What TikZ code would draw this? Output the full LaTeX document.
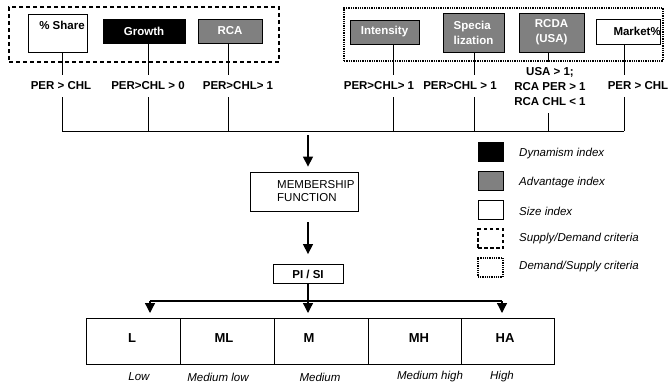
\documentclass[tikz,border=0pt]{standalone}
\usepackage{fontspec}
\setmainfont{Liberation Sans}
\usetikzlibrary{arrows.meta}

\begin{document}
\begin{tikzpicture}[x=1pt, y=-1pt,
    every node/.style={font=\fontsize{11.5}{13}\selectfont},
    idxbox/.style={draw, line width=0.8pt, inner sep=0pt, font=\fontsize{11.5}{15}\selectfont\bfseries},
    crit/.style={inner xsep=0pt, inner ysep=7pt, align=center, font=\fontsize{11.5}{15}\selectfont\bfseries},
    flow/.style={line width=1.3pt, -{Triangle[width=10pt,length=10pt]}},
    legbox/.style={draw, line width=0.8pt, minimum width=25pt, minimum height=19pt, inner sep=0pt},
    legtext/.style={anchor=west, inner sep=0pt, font=\fontsize{11.5}{13}\selectfont\itshape},
    sublabel/.style={inner sep=0pt, font=\fontsize{11.5}{13}\selectfont\itshape}]
    \useasboundingbox (0,0) rectangle (669,384);

    \node[draw, dashed, line width=1.3pt, dash pattern=on 4pt off 3pt, minimum width=270pt, minimum height=55pt] (sdframe) at (144,34.5) {};
    \node[idxbox, fill=white, minimum width=59pt, minimum height=38pt] (share) at (57.5,33) {};
    \node[inner sep=0pt, font=\fontsize{11.5}{13}\selectfont\bfseries] (sharetxt) at (62,25) {\% Share};
    \node[idxbox, fill=black, text=white, minimum width=82pt, minimum height=24pt] (growth) at (144,31) {Growth};
    \node[idxbox, fill=gray, text=white, minimum width=64pt, minimum height=24pt] (rca) at (230,31) {RCA};

    \node[draw, densely dotted, line width=1.3pt, minimum width=319pt, minimum height=53pt] (dsframe) at (503.5,34.5) {};
    \node[idxbox, fill=gray, text=white, minimum width=69pt, minimum height=24pt] (intens) at (384.5,32) {Intensity};
    \node[idxbox, fill=gray, text=white, minimum width=61pt, minimum height=39pt, align=left] (special) at (473.5,32.5) {Specia\\lization};
    \node[idxbox, fill=gray, text=white, minimum width=65pt, minimum height=39pt, align=center] (rcda) at (551.5,32.5) {RCDA\\(USA)};
    \node[idxbox, fill=white, minimum width=64pt, minimum height=25pt] (market) at (628,31.5) {};
    \node[anchor=east, inner sep=0pt, font=\fontsize{11.5}{13}\selectfont\bfseries] (markettxt) at (661,31.5) {Market\%};

    \node[crit] (c1) at (61,86) {PER > CHL};
    \node[crit] (c2) at (148,86) {PER>CHL > 0};
    \node[crit] (c3) at (238,86) {PER>CHL> 1};
    \node[crit] (c4) at (379,86) {PER>CHL> 1};
    \node[crit] (c5) at (460,86) {PER>CHL > 1};
    \node[crit] (c6) at (550,87) {USA > 1;\\RCA PER > 1\\RCA CHL < 1};
    \node[crit] (c7) at (638,86) {PER > CHL};

    \coordinate (b1) at (62,131);
    \coordinate (b2) at (148,131);
    \coordinate (b3) at (228,131);
    \coordinate (b4) at (393,131);
    \coordinate (b5) at (474,131);
    \coordinate (b6) at (548,131);
    \coordinate (b7) at (624,131);

    \draw[line width=0.8pt] (b1 |- share.south) -- (b1 |- c1.north);
    \draw[line width=0.8pt] (b2 |- growth.south) -- (b2 |- c2.north);
    \draw[line width=0.8pt] (b3 |- rca.south) -- (b3 |- c3.north);
    \draw[line width=0.8pt] (b4 |- intens.south) -- (b4 |- c4.north);
    \draw[line width=0.8pt] (b5 |- special.south) -- (b5 |- c5.north);
    \draw[line width=0.8pt] (b6 |- rcda.south) -- (b6 |- dsframe.south);
    \draw[line width=0.8pt] (b7 |- market.south) -- (b7 |- c7.north);

    \draw[line width=0.8pt] (b1 |- c1.south) -- (b1);
    \draw[line width=0.8pt] (b2 |- c2.south) -- (b2);
    \draw[line width=0.8pt] (b3 |- c3.south) -- (b3);
    \draw[line width=0.8pt] (b4 |- c4.south) -- (b4);
    \draw[line width=0.8pt] (b5 |- c5.south) -- (b5);
    \draw[line width=0.8pt] (b6 |- c6.south) -- (b6);
    \draw[line width=0.8pt] (b7 |- c7.south) -- (b7);
    \draw[line width=0.8pt] (b1) -- (b7);

    \coordinate (bm) at (308,131);
    \node[idxbox, minimum width=108pt, minimum height=39pt] (member) at (304,191.5) {};
    \node[anchor=west, inner sep=0pt, align=left] (membertxt) at (277,191.5) {MEMBERSHIP\\FUNCTION};
    \node[idxbox, minimum width=70pt, minimum height=19pt] (pisi) at (308,274) {PI / SI};
    \draw[flow, shorten <=4pt, shorten >=5pt] (bm) -- (bm |- member.north);
    \draw[flow, shorten <=11pt, shorten >=10pt] (bm |- member.south) -- (bm |- pisi.north);

    \coordinate (sl) at (150,301);
    \coordinate (sr) at (502,301);
    \draw[line width=1.1pt] (pisi.south) -- (pisi.south |- sl);
    \draw[line width=1.1pt] (sl) -- (sr);
    \draw[flow] (sl) -- ++(0,12);
    \draw[flow] (pisi.south |- sl) -- ++(0,12);
    \draw[flow] (sr) -- ++(0,12);

    % Scale
    \draw[line width=0.9pt] (86,318) rectangle (554,364);
    \draw[line width=0.9pt] (180,318) -- (180,364);
    \draw[line width=0.9pt] (274,318) -- (274,364);
    \draw[line width=0.9pt] (368,318) -- (368,364);
    \draw[line width=0.9pt] (461,318) -- (461,364);
    \node[font=\fontsize{13}{15}\selectfont\bfseries] (lo) at (132,338) {L};
    \node[font=\fontsize{13}{15}\selectfont\bfseries] (ml) at (224,338) {ML};
    \node[font=\fontsize{13}{15}\selectfont\bfseries] (me) at (309,338) {M};
    \node[font=\fontsize{13}{15}\selectfont\bfseries] (mh) at (419,338) {MH};
    \node[font=\fontsize{13}{15}\selectfont\bfseries] (ha) at (505,338) {HA};
    \node[sublabel] (lotxt) at (139,377) {Low};
    \node[sublabel] (mltxt) at (218,377) {Medium low};
    \node[sublabel] (metxt) at (320,377) {Medium};
    \node[sublabel] (mhtxt) at (430,377) {Medium high};
    \node[sublabel] (hatxt) at (502,377) {High};

    % Legend
    \node[legbox, fill=black] (kdyn) at (490.5,152) {};
    \node[legbox, fill=gray] (kadv) at (490.5,181) {};
    \node[legbox, fill=white] (ksize) at (490.5,210) {};
    \node[legbox, dashed, line width=1.3pt, dash pattern=on 3.5pt off 2.5pt] (ksd) at (490.5,238.5) {};
    \node[legbox, densely dotted, line width=1.3pt] (kds) at (490.5,267.5) {};
    \node[legtext] (tdyn) at (519,154) {Dynamism index};
    \node[legtext] (tadv) at (519,183) {Advantage index};
    \node[legtext] (tsize) at (519,211) {Size index};
    \node[legtext] (tsd) at (519,239) {Supply/Demand criteria};
    \node[legtext] (tds) at (519,267) {Demand/Supply criteria};
\end{tikzpicture}
\end{document}
